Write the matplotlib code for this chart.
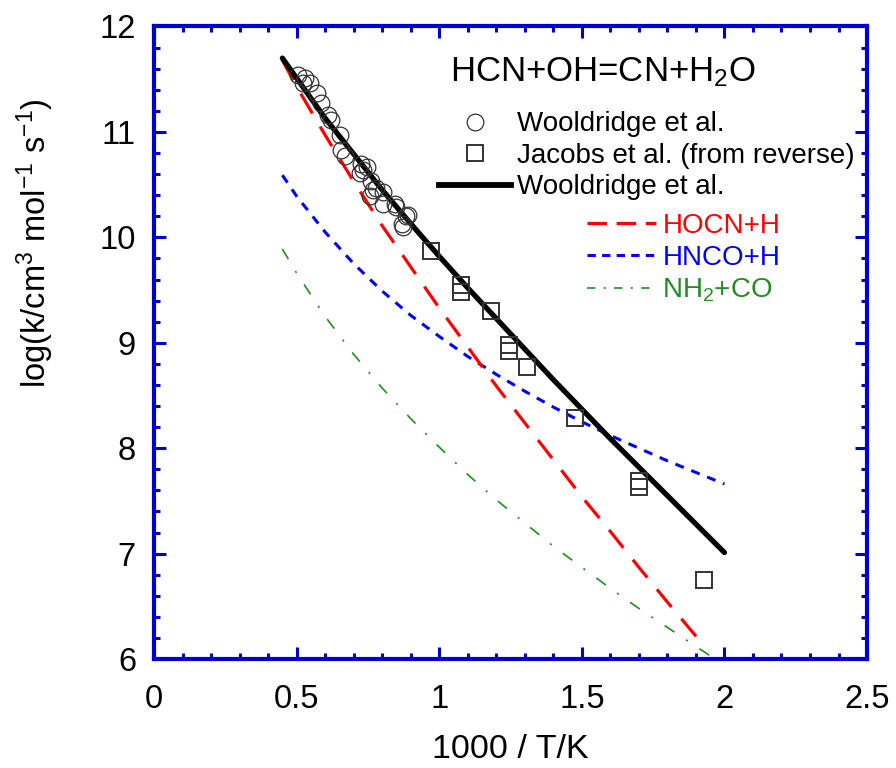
import matplotlib
matplotlib.use("Agg")
import matplotlib.pyplot as plt
from matplotlib.ticker import MultipleLocator
from matplotlib.lines import Line2D

plt.rcParams['font.family'] = ['Liberation Sans', 'DejaVu Sans']
plt.rcParams['mathtext.fontset'] = 'custom'
plt.rcParams['mathtext.rm'] = 'Liberation Sans'
plt.rcParams['mathtext.it'] = 'Liberation Sans:italic'
plt.rcParams['lines.scale_dashes'] = False

# Wooldridge et al. measurements (circles)
wool_x = [0.505, 0.523, 0.529, 0.546, 0.570, 0.587, 0.611, 0.622, 0.651, 0.657,
          0.669, 0.722, 0.727, 0.733, 0.745, 0.757, 0.762, 0.768, 0.780, 0.803,
          0.803, 0.844, 0.850, 0.868, 0.873, 0.885, 0.891]
wool_y = [11.54, 11.46, 11.51, 11.46, 11.37, 11.27, 11.16, 11.11, 10.97, 10.83,
          10.77, 10.61, 10.70, 10.64, 10.67, 10.39, 10.53, 10.45, 10.47, 10.43,
          10.32, 10.32, 10.29, 10.13, 10.10, 10.20, 10.21]

# Jacobs et al. (from reverse) (squares)
jac_x = [0.970, 1.077, 1.077, 1.182, 1.243, 1.243, 1.308, 1.475, 1.699, 1.699, 1.930]
jac_y = [9.87, 9.55, 9.48, 9.30, 8.98, 8.92, 8.77, 8.29, 7.69, 7.63, 6.75]

# Wooldridge et al. fit (solid)
fit_x = [0.45, 0.5, 0.6, 0.7, 0.8, 0.9, 1.0, 1.1, 1.2, 1.3, 1.4, 1.5, 1.6, 1.7, 1.8, 1.9, 2.0]
fit_y = [11.70, 11.51, 11.13, 10.79, 10.45, 10.13, 9.82, 9.52, 9.23, 8.94, 8.65, 8.37,
         8.09, 7.82, 7.55, 7.28, 7.01]

# channels
hocn_x = [0.45, 0.5, 0.6, 0.7, 0.8, 0.9, 1.0, 1.1, 1.2, 1.3, 1.4, 1.5, 1.6, 1.7, 1.8, 1.93]
hocn_y = [11.68, 11.43, 10.97, 10.53, 10.11, 9.72, 9.33, 8.96, 8.59, 8.24, 7.89, 7.54,
          7.21, 6.87, 6.54, 6.12]

hnco_x = [0.45, 0.5, 0.6, 0.7, 0.8, 0.9, 1.0, 1.1, 1.2, 1.3, 1.4, 1.5, 1.6, 1.7, 1.8, 1.9, 2.0]
hnco_y = [10.59, 10.39, 10.05, 9.75, 9.49, 9.26, 9.06, 8.87, 8.70, 8.54, 8.39, 8.25,
          8.12, 8.00, 7.88, 7.77, 7.66]

nh2_x = [0.45, 0.5, 0.6, 0.7, 0.8, 0.9, 1.0, 1.1, 1.2, 1.3, 1.4, 1.5, 1.6, 1.7, 1.8, 1.95]
nh2_y = [9.89, 9.66, 9.25, 8.89, 8.57, 8.28, 8.01, 7.75, 7.51, 7.29, 7.07, 6.87,
         6.67, 6.48, 6.30, 6.03]

RED = '#ff0000'
BLUE = '#0000ff'
GREEN = '#228b22'
SPINE = '#0000cc'

fig = plt.figure(figsize=(8.96, 7.68), dpi=100)
ax = fig.add_axes([0.1719, 0.1419, 0.7958, 0.8236])

ax.plot(nh2_x, nh2_y, color=GREEN, lw=1.2, dashes=(8.5, 10, 1.5, 10))
ax.plot(hnco_x, hnco_y, color=BLUE, lw=2.2, dashes=(6.5, 5.8))
ax.plot(hocn_x, hocn_y, color=RED, lw=2.3, dashes=(16.5, 11))
ax.plot(fit_x, fit_y, color='black', lw=3.8, solid_capstyle='round')
ax.plot(wool_x, wool_y, 'o', ms=12, mfc='none', mec='#333333', mew=0.9)
ax.plot(jac_x, jac_y, 's', ms=11.5, mfc='none', mec='#333333', mew=1.4)

ax.set_xlim(0, 2.5)
ax.set_ylim(6, 12)
ax.xaxis.set_major_locator(MultipleLocator(0.5))
ax.xaxis.set_minor_locator(MultipleLocator(0.1))
ax.yaxis.set_major_locator(MultipleLocator(1))
ax.yaxis.set_minor_locator(MultipleLocator(0.2))
ax.set_xticks([0, 0.5, 1, 1.5, 2, 2.5], ['0', '0.5', '1', '1.5', '2', '2.5'])

for s in ax.spines.values():
    s.set_color(SPINE)
    s.set_linewidth(3)
ax.tick_params(which='both', direction='in', top=True, right=True,
               color=SPINE, labelsize=23.5, labelcolor='black')
ax.tick_params(which='major', length=8.6, width=2.2)
ax.tick_params(which='minor', length=4.3, width=2.2)
ax.tick_params(axis='x', pad=18)
ax.tick_params(axis='y', pad=13)

ax.set_xlabel('1000 / T/K', fontsize=24.5, labelpad=14)
ax.set_ylabel(r'log(k/cm$^3$ mol$^{-1}$ s$^{-1}$)', fontsize=23.5)
ax.yaxis.set_label_coords(-0.137, 0.657)

fig.text(0.502, 0.8936, r'HCN+OH=CN+H$_2$O', fontsize=25, ha='left', va='baseline')

h1 = [Line2D([], [], ls='none', marker='o', ms=12, mfc='none', mec='#333333', mew=0.9),
      Line2D([], [], ls='none', marker='s', ms=11.5, mfc='none', mec='#333333', mew=1.4),
      Line2D([], [], color='black', lw=4.2)]
leg1 = ax.legend(h1, ['Wooldridge et al.', 'Jacobs et al. (from reverse)', 'Wooldridge et al.'],
                 loc='upper left', bbox_to_anchor=(0.490, 0.855), bbox_transform=fig.transFigure,
                 frameon=False, borderpad=0, borderaxespad=0, fontsize=20, handlelength=2.6,
                 handletextpad=0.2, labelspacing=0.2, numpoints=1)
ax.add_artist(leg1)

h2 = [Line2D([], [], color=RED, lw=2.3, dashes=(14, 7)),
      Line2D([], [], color=BLUE, lw=2.2, dashes=(6, 4.5)),
      Line2D([], [], color=GREEN, lw=1.2, dashes=(6, 6, 1.5, 6))]
leg2 = ax.legend(h2, ['HOCN+H', 'HNCO+H', r'NH$_2$+CO'],
                 loc='upper left', bbox_to_anchor=(0.655, 0.723), bbox_transform=fig.transFigure,
                 frameon=False, borderpad=0, borderaxespad=0, fontsize=20, handlelength=2.5,
                 handletextpad=0.22, labelspacing=0.22, labelcolor=[RED, BLUE, GREEN])

fig.savefig('out.png', dpi=100)
